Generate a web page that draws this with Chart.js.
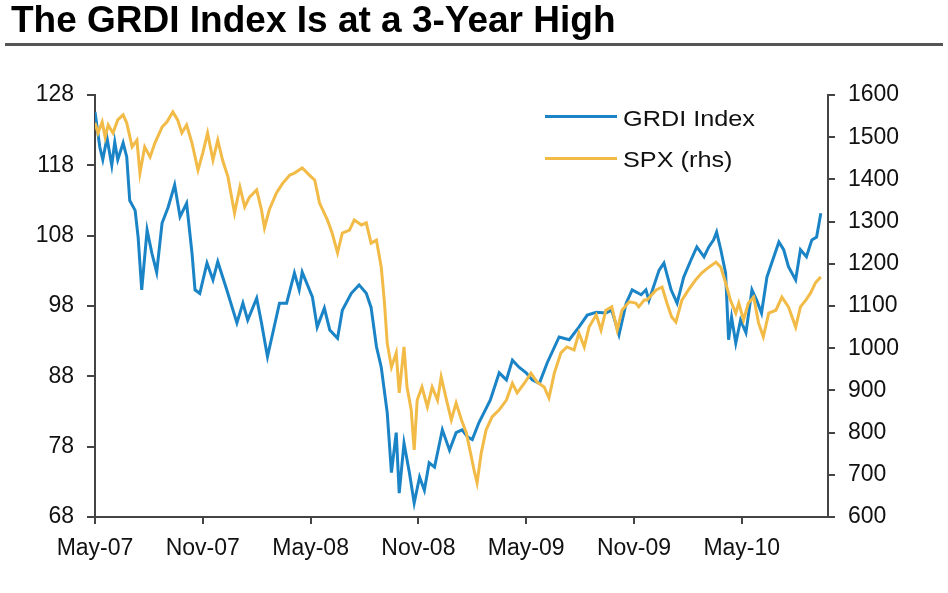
<!DOCTYPE html>
<html lang="en">
<head>
<meta charset="UTF-8">
<title>The GRDI Index Is at a 3-Year High</title>
<script src="https://cdn.jsdelivr.net/npm/chart.js"></script>
<style>
    html, body { margin: 0; padding: 0; background: #fff; }
    body {
        width: 948px; height: 593px; position: relative; overflow: hidden;
        font-family: "Liberation Sans", Arial, sans-serif;
    }
    #title {
        position: absolute; left: 11px; top: 1px;
        font-size: 37px; line-height: 37px; font-weight: bold; color: #000;
        white-space: nowrap; transform-origin: left top;
    }
    #rule { position: absolute; left: 5px; top: 43px; width: 938px; height: 3px; background: #555; }
    #wrap { position: absolute; left: 0; top: 0; width: 948px; height: 593px; }
    .key { position: absolute; left: 545px; width: 72px; height: 3px; }
    .keytext {
        position: absolute; left: 623px; font-size: 22px; line-height: 22px;
        color: #111; white-space: nowrap; transform-origin: left top;
    }
</style>
</head>
<body>
<div id="wrap"><canvas id="chart"></canvas></div>
<div id="title">The GRDI Index Is at a 3-Year High</div>
<div id="rule"></div>
<div class="key" style="top:115px;background:#1a84c6"></div>
<div class="keytext" id="k1" style="top:108px">GRDI Index</div>
<div class="key" style="top:157px;background:#f2bb47"></div>
<div class="keytext" id="k2" style="top:149px">SPX (rhs)</div>

<script>
// x axis ticks (every 6 months from May-07)
const tickMonths = [0, 6, 12, 18, 24, 30, 36];
const tickLabels = ["May-07", "Nov-07", "May-08", "Nov-08", "May-09", "Nov-09", "May-10"];

// GRDI Index (left axis)
const grdiDates = [
    "2007-05-01","2007-05-09","2007-05-14","2007-05-21","2007-05-29","2007-06-04","2007-06-09","2007-06-18",
    "2007-06-24","2007-06-29","2007-07-08","2007-07-13","2007-07-19","2007-07-28","2007-08-06","2007-08-14",
    "2007-08-23","2007-09-03","2007-09-14","2007-09-23","2007-10-04","2007-10-13","2007-10-18","2007-10-26",
    "2007-11-08","2007-11-18","2007-11-26","2007-12-11","2007-12-28","2008-01-08","2008-01-16","2008-02-01",
    "2008-02-09","2008-02-19","2008-02-28","2008-03-09","2008-03-21","2008-04-04","2008-04-12","2008-04-17",
    "2008-05-04","2008-05-12","2008-05-24","2008-06-03","2008-06-16","2008-06-24","2008-07-09","2008-07-22",
    "2008-08-04","2008-08-12","2008-08-21","2008-08-29","2008-09-09","2008-09-16","2008-09-24","2008-09-29",
    "2008-10-07","2008-10-16","2008-10-24","2008-11-03","2008-11-11","2008-11-19","2008-11-28","2008-12-11",
    "2008-12-23","2009-01-04","2009-01-14","2009-01-23","2009-02-01","2009-02-12","2009-03-01","2009-03-16",
    "2009-03-28","2009-04-08","2009-04-19","2009-05-01","2009-05-11","2009-05-23","2009-06-06","2009-06-26",
    "2009-07-13","2009-07-29","2009-08-13","2009-08-28","2009-09-14","2009-09-24","2009-10-06","2009-10-18",
    "2009-10-28","2009-11-13","2009-11-21","2009-11-26","2009-12-13","2009-12-21","2010-01-03","2010-01-13",
    "2010-01-24","2010-02-06","2010-02-16","2010-02-28","2010-03-06","2010-03-14","2010-03-19","2010-03-26",
    "2010-04-04","2010-04-09","2010-04-14","2010-04-21","2010-04-29","2010-05-08","2010-05-18","2010-05-26",
    "2010-06-04","2010-06-13","2010-06-21","2010-07-03","2010-07-11","2010-07-19","2010-08-01","2010-08-09",
    "2010-08-19","2010-08-28","2010-09-06","2010-09-13"
];
const grdiValues = [
    125.6,120.6,118.8,121.9,118,121.3,118.8,121.2,
    119.2,113,111.6,107.8,100.3,108.8,105.5,102.8,
    109.8,112,115.2,110.7,112.6,105.5,100.3,99.8,
    104.1,101.7,104.3,100.3,95.6,98.4,96,99.1,
    95.6,90.8,94.2,98.4,98.4,102.7,100.3,102.8,
    99.3,95,97.7,94.6,93.4,97.4,99.8,101,
    99.8,97.8,92.2,89.3,82.8,74.3,80,71.4,
    78.5,74.3,70,73.7,71.8,75.7,75.1,80.4,
    77.5,80,80.4,79.4,79,81.4,84.6,88.5,
    87.5,90.3,89.3,88.5,87.5,87,89.9,93.6,
    93.2,95,96.7,97.1,97,97.4,93.9,98.4,
    100.3,99.6,100.3,98.8,103.1,104.1,100.3,98.4,
    102.1,104.5,106.4,105,106.4,107.4,108.5,106,
    102.7,93.2,96.4,92.7,96,94.2,100.3,98.8,
    97,102.1,104.1,107.1,106,103.6,101.7,106,
    105,107.4,107.8,111.2
];

// SPX (right axis)
const spxDates = [
    "2007-05-01","2007-05-06","2007-05-13","2007-05-18","2007-05-23","2007-06-01","2007-06-09","2007-06-18",
    "2007-06-24","2007-07-03","2007-07-11","2007-07-16","2007-07-24","2007-08-03","2007-08-11","2007-08-23",
    "2007-09-01","2007-09-11","2007-09-19","2007-09-26","2007-10-04","2007-10-13","2007-10-23","2007-11-01",
    "2007-11-09","2007-11-18","2007-11-26","2007-12-04","2007-12-13","2007-12-24","2008-01-03","2008-01-11",
    "2008-01-19","2008-02-01","2008-02-09","2008-02-14","2008-02-22","2008-03-04","2008-03-14","2008-03-26",
    "2008-04-04","2008-04-17","2008-04-29","2008-05-08","2008-05-16","2008-05-29","2008-06-07","2008-06-16",
    "2008-06-24","2008-07-06","2008-07-14","2008-07-26","2008-08-04","2008-08-12","2008-08-21","2008-08-29",
    "2008-09-04","2008-09-09","2008-09-16","2008-09-24","2008-09-29","2008-10-07","2008-10-12","2008-10-19",
    "2008-10-24","2008-10-29","2008-11-07","2008-11-16","2008-11-24","2008-12-03","2008-12-09","2008-12-18",
    "2008-12-26","2009-01-04","2009-01-13","2009-01-21","2009-01-26","2009-02-04","2009-02-09","2009-02-16",
    "2009-02-24","2009-03-04","2009-03-16","2009-03-28","2009-04-08","2009-04-16","2009-04-28","2009-05-09",
    "2009-05-19","2009-06-01","2009-06-09","2009-06-18","2009-06-29","2009-07-09","2009-07-21","2009-07-29",
    "2009-08-08","2009-08-16","2009-08-28","2009-09-06","2009-09-14","2009-09-24","2009-10-03","2009-10-11",
    "2009-10-23","2009-11-04","2009-11-09","2009-11-18","2009-11-23","2009-12-08","2009-12-18","2009-12-26",
    "2010-01-04","2010-01-11","2010-01-21","2010-02-02","2010-02-14","2010-02-24","2010-03-06","2010-03-18",
    "2010-03-26","2010-04-04","2010-04-12","2010-04-21","2010-04-26","2010-05-04","2010-05-12","2010-05-21",
    "2010-05-29","2010-06-07","2010-06-16","2010-06-28","2010-07-08","2010-07-19","2010-08-01","2010-08-09",
    "2010-08-18","2010-08-26","2010-09-04","2010-09-13"
];
const spxValues = [
    1534,1510,1536,1500,1529,1510,1541,1553,
    1534,1477,1493,1415,1477,1453,1486,1524,
    1536,1560,1541,1510,1529,1486,1422,1463,
    1510,1446,1493,1446,1406,1320,1382,1335,
    1358,1375,1328,1285,1328,1368,1390,1410,
    1415,1427,1410,1398,1344,1304,1273,1226,
    1273,1280,1304,1292,1297,1249,1256,1192,
    1114,1012,955,989,894,1003,908,854,
    759,877,908,861,908,877,932,877,
    830,870,830,800,766,711,681,752,
    806,837,854,877,917,894,917,941,
    920,908,882,941,989,1003,996,1036,
    1003,1050,1079,1043,1090,1098,1043,1090,
    1110,1107,1098,1114,1114,1138,1145,1107,
    1074,1062,1114,1138,1162,1178,1192,1204,
    1192,1155,1114,1083,1107,1067,1107,1121,
    1060,1027,1083,1090,1121,1098,1050,1098,
    1114,1131,1155,1169
];

// months since 1 May 2007
function toMonths(d) {
    const p = d.split("-").map(Number);
    return (p[0] - 2007) * 12 + (p[1] - 5) + (p[2] - 1) / 30;
}

const axisColor = "#444";
const tickFont = { family: "'Liberation Sans', Arial, sans-serif", size: 23 };

new Chart(document.getElementById("chart"), {
    type: "line",
    data: {
        datasets: [
            {
                label: "GRDI Index",
                data: grdiDates.map((d, i) => ({ x: toMonths(d), y: grdiValues[i] })),
                borderColor: "#1a84c6",
                borderWidth: 3,
                pointRadius: 0,
                tension: 0,
                yAxisID: "yL",
                order: 1
            },
            {
                label: "SPX (rhs)",
                data: spxDates.map((d, i) => ({ x: toMonths(d), y: spxValues[i] })),
                borderColor: "#f2bb47",
                borderWidth: 3,
                pointRadius: 0,
                tension: 0,
                yAxisID: "yR",
                order: 0
            }
        ]
    },
    options: {
        responsive: true,
        maintainAspectRatio: false,
        animation: false,
        layout: { padding: { top: 95, left: 0, right: 0, bottom: 0 } },
        plugins: { legend: { display: false }, tooltip: { enabled: false } },
        scales: {
            x: {
                type: "linear",
                min: 0,
                max: 40.8,
                afterBuildTicks: s => { s.ticks = tickMonths.map(v => ({ value: v })); },
                afterFit: s => { s.height = 76; },
                ticks: {
                    autoSkip: false, maxRotation: 0, padding: 11,
                    color: "#111", font: tickFont,
                    callback: v => tickLabels[tickMonths.indexOf(v)]
                },
                grid: { drawOnChartArea: false, drawTicks: true, tickLength: 7, color: axisColor, lineWidth: 2 },
                border: { color: axisColor, width: 2 }
            },
            yL: {
                position: "left",
                min: 68,
                max: 128,
                afterFit: s => { s.width = 95; },
                ticks: { stepSize: 10, padding: 13, color: "#111", font: tickFont, callback: v => String(v) },
                grid: { drawOnChartArea: false, drawTicks: true, tickLength: 8, color: axisColor, lineWidth: 2 },
                border: { color: axisColor, width: 2 }
            },
            yR: {
                position: "right",
                min: 600,
                max: 1600,
                afterFit: s => { s.width = 120; },
                ticks: { stepSize: 100, padding: 13, color: "#111", font: tickFont, callback: v => String(v) },
                grid: { drawOnChartArea: false, drawTicks: true, tickLength: 7, color: axisColor, lineWidth: 2 },
                border: { color: axisColor, width: 2 }
            }
        }
    }
});

// legend text is a little wider in the original
const k1 = document.getElementById("k1");
const k = 132 / k1.getBoundingClientRect().width;
k1.style.transform = "scaleX(" + k + ")";
document.getElementById("k2").style.transform = "scaleX(" + k + ")";
</script>
</body>
</html>
